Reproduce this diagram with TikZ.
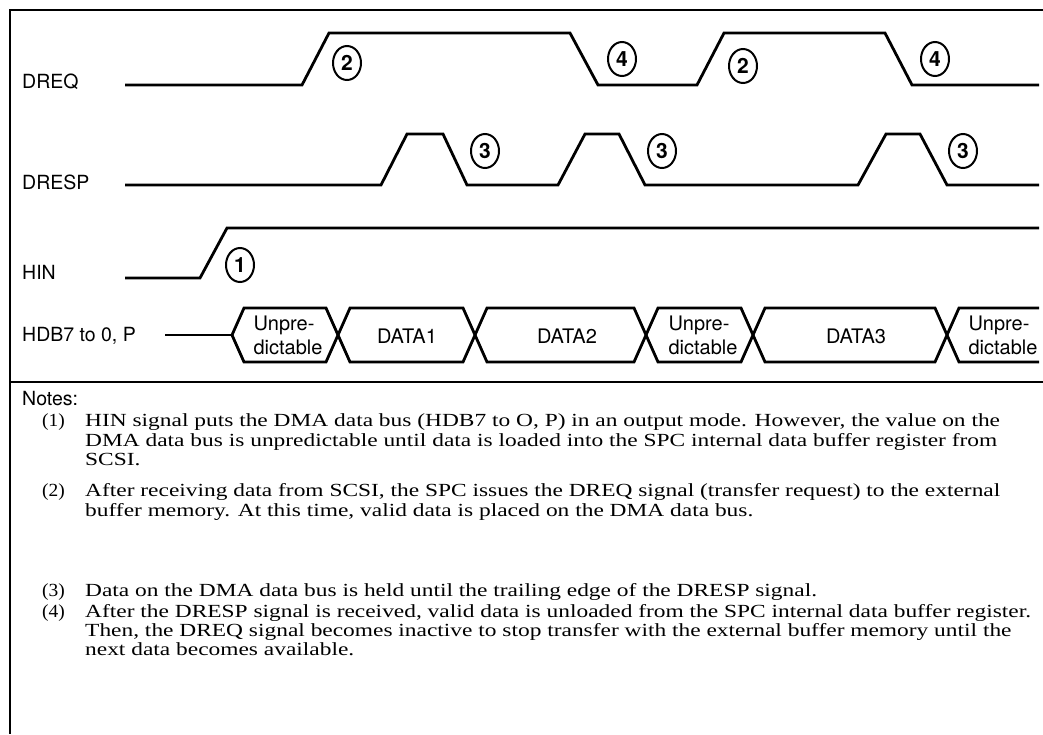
\documentclass[tikz,border=0pt]{standalone}
\usepackage{fontspec}
\setsansfont{TeX Gyre Heros}
\newfontfamily\notefont[FakeStretch=1.265]{Liberation Serif}
\newfontfamily\notenumfont[FakeStretch=1.05]{Liberation Serif}
\usetikzlibrary{shapes.geometric}
\begin{document}
\begin{tikzpicture}[x=1pt,y=-1pt,
  frame/.style={line width=2.8pt},
  sig/.style={line width=2.8pt,line join=miter},
  lbl/.style={font=\sffamily\fontsize{19.5}{22}\selectfont,inner sep=0pt},
  num/.style={draw,line width=2pt,ellipse,minimum width=28pt,minimum height=34pt,inner sep=0pt,font=\sffamily\bfseries\fontsize{21}{21}\selectfont},
  bus/.style={font=\sffamily\fontsize{20}{22}\selectfont,inner sep=0pt},
  busu/.style={font=\sffamily\fontsize{20}{24}\selectfont,inner sep=0pt,align=left},
  note/.style={font=\notefont\fontsize{18.5}{19.5}\selectfont,inner sep=0pt,anchor=base west},
  notenum/.style={font=\notenumfont\fontsize{18.5}{19.5}\selectfont,inner sep=0pt,anchor=base west},
]
\useasboundingbox (0,0) rectangle (1043,734);

% frame
\draw[frame] (1043,10) -- (10,10) -- (10,734);
\draw[frame] (10,382) -- (1043,382);

% signal names
\node[lbl,anchor=west] (lreq)  at (22,82)  {DREQ};
\node[lbl,anchor=west] (lresp) at (22,182) {DRESP};
\node[lbl,anchor=west] (lhin)  at (22,272) {HIN};
\node[lbl,anchor=west] (lhdb)  at (22,336) {HDB7 to 0, P};

% DREQ
\draw[sig] (125,85) -- (302,85) -- (329,33) -- (570,33) -- (598,85) -- (697,85)
  -- (724,33) -- (885,33) -- (912,85) -- (1039,85);
% DRESP
\draw[sig] (125,185) -- (381,185) -- (407,134) -- (443,134) -- (467,185) -- (558,185)
  -- (585,134) -- (619,134) -- (645,185) -- (858,185) -- (886,134) -- (920,134)
  -- (947,185) -- (1039,185);
% HIN
\draw[sig] (125,278) -- (200,278) -- (227,228) -- (1039,228);

% event markers
\node[num] (e2a) at (347,63)  {2};
\node[num] (e4a) at (622,59)  {4};
\node[num] (e2b) at (743,66)  {2};
\node[num] (e4b) at (935,59)  {4};
\node[num] (e3a) at (485,151) {3};
\node[num] (e3b) at (662,151) {3};
\node[num] (e3c) at (963,151) {3};
\node[num] (e1)  at (240,265) {1};

% data bus
\def\h{12}
\coordinate (b0) at (232,335);
\draw[sig] (165,335) -- (b0);
\draw[sig] (b0) -- (232+\h,308) -- (338-\h,308) -- (338+\h,362) -- (475-\h,362)
  -- (475+\h,308) -- (646-\h,308) -- (646+\h,362) -- (753-\h,362) -- (753+\h,308)
  -- (947-\h,308) -- (947+\h,362) -- (1039,362);
\draw[sig] (b0) -- (232+\h,362) -- (338-\h,362) -- (338+\h,308) -- (475-\h,308)
  -- (475+\h,362) -- (646-\h,362) -- (646+\h,308) -- (753-\h,308) -- (753+\h,362)
  -- (947-\h,362) -- (947+\h,308) -- (1039,308);

\node[busu] (u1) at (288,335) {Unpre-\\dictable};
\node[bus]  (d1) at (407,336) {DATA1};
\node[bus]  (d2) at (567,336) {DATA2};
\node[busu] (u2) at (703,335) {Unpre-\\dictable};
\node[bus]  (d3) at (856,336) {DATA3};
\node[busu] (u3) at (1003,335) {Unpre-\\dictable};

% notes
\node[lbl,anchor=west] (notes) at (22,399) {Notes:};

\node[notenum] (k1) at (42,426) {(1)};
\node[note] (t1a) at (85,426) {HIN signal puts the DMA data bus (HDB7 to O, P) in an output mode. However, the value on the};
\node[note] (t1b) at (85,446) {DMA data bus is unpredictable until data is loaded into the SPC internal data buffer register from};
\node[note] (t1c) at (85,465) {SCSI.};

\node[notenum] (k2) at (42,496) {(2)};
\node[note] (t2a) at (85,496) {After receiving data from SCSI, the SPC issues the DREQ signal (transfer request) to the external};
\node[note] (t2b) at (85,516) {buffer memory. At this time, valid data is placed on the DMA data bus.};

\node[notenum] (k3) at (42,596) {(3)};
\node[note] (t3a) at (85,596) {Data on the DMA data bus is held until the trailing edge of the DRESP signal.};

\node[notenum] (k4) at (42,617) {(4)};
\node[note] (t4a) at (85,617) {After the DRESP signal is received, valid data is unloaded from the SPC internal data buffer register.};
\node[note] (t4b) at (85,636) {Then, the DREQ signal becomes inactive to stop transfer with the external buffer memory until the};
\node[note] (t4c) at (85,655) {next data becomes available.};
\end{tikzpicture}
\end{document}
